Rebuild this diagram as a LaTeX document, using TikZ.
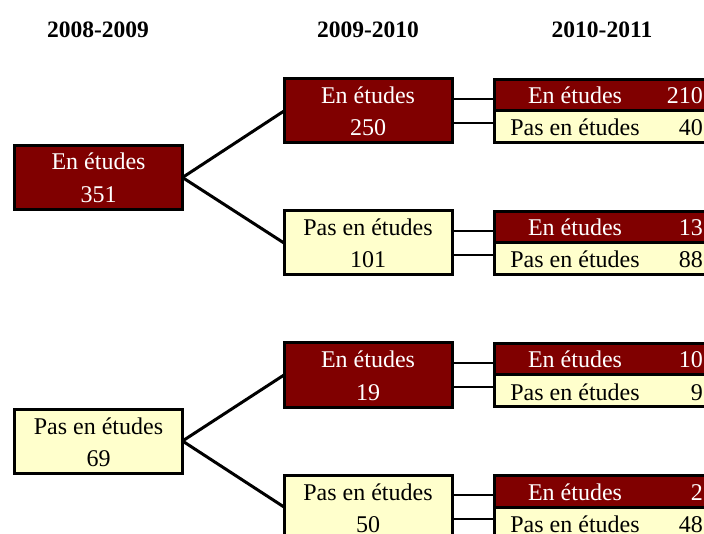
\documentclass[tikz,border=0pt]{standalone}
\usepackage{fontspec}
\setmainfont{Liberation Serif}
\usetikzlibrary{calc}
\definecolor{maroonbox}{HTML}{800000}
\definecolor{paleyellow}{HTML}{FFFFCC}
\begin{document}
\begin{tikzpicture}[x=1pt,y=-1pt,
  box/.style={draw=black, line width=3pt, minimum width=168pt, minimum height=64pt, inner sep=0pt, outer sep=0pt},
  inbox/.style={box, fill=maroonbox},
  outbox/.style={box, fill=paleyellow},
  row/.style={draw=black, line width=3pt, minimum width=221pt, minimum height=31.5pt, inner sep=0pt, outer sep=0pt},
  inrow/.style={row, fill=maroonbox},
  outrow/.style={row, fill=paleyellow},
  txt/.style={anchor=base, inner sep=0pt, font=\fontsize{24}{28}\selectfont},
  wtxt/.style={txt, text=white},
  numtxt/.style={txt, anchor=base east},
  wnumtxt/.style={numtxt, text=white},
  hdr/.style={anchor=base, inner sep=0pt, font=\fontsize{23.5}{28}\selectfont\bfseries},
  branch/.style={draw=black, line width=3pt},
  link/.style={draw=black, line width=1.8pt}
]
\useasboundingbox (0,0) rectangle (704,534);
\clip (0,0) rectangle (704,534);

% headers
\node[hdr] (h1) at (98,38) {2008-2009};
\node[hdr] (h2) at (368,38) {2009-2010};
\node[hdr] (h3) at (602,38) {2010-2011};

% column 1
\node[inbox] (a1) at (98.5,177.5) {};
\node[outbox] (a2) at (98.5,441) {};
% column 2
\node[inbox] (b1) at (368,111) {};
\node[outbox] (b2) at (368,243) {};
\node[inbox] (b3) at (368,375) {};
\node[outbox] (b4) at (368,507) {};
% column 3
\node[inrow] (c1a) at (605,95.25) {};
\node[outrow] (c1b) at (605,126.75) {};
\node[inrow] (c2a) at (605,227.25) {};
\node[outrow] (c2b) at (605,258.75) {};
\node[inrow] (c3a) at (605,359.25) {};
\node[outrow] (c3b) at (605,390.75) {};
\node[inrow] (c4a) at (605,491.25) {};
\node[outrow] (c4b) at (605,522.75) {};

% branches
\draw[branch] (a1.east) -- (b1.west);
\draw[branch] (a1.east) -- (b2.west);
\draw[branch] (a2.east) -- (b3.west);
\draw[branch] (a2.east) -- (b4.west);

% links
\foreach \b/\c in {b1/c1a, b2/c2a, b3/c3a, b4/c4a}{
  \draw[link] ([yshift=12pt]\b.east) -- ([yshift=12pt]\b.east -| \c.west);
  \draw[link] ([yshift=-12pt]\b.east) -- ([yshift=-12pt]\b.east -| \c.west);
}

% texts column 1
\node[wtxt] at (98.5,170) {En études};
\node[wtxt] at (98.5,203) {351};
\node[txt] at (98.5,434) {Pas en études};
\node[txt] at (98.5,466.5) {69};

% texts column 2
\node[wtxt] at (368,104) {En études};
\node[wtxt] at (368,136) {250};
\node[txt] at (368,236) {Pas en études};
\node[txt] at (368,268) {101};
\node[wtxt] at (368,368) {En études};
\node[wtxt] at (368,400) {19};
\node[txt] at (368,500) {Pas en études};
\node[txt] at (368,532) {50};

% texts column 3
\node[wtxt] at (575,104) {En études};
\node[wnumtxt] at (703,104) {210};
\node[txt] at (575,136) {Pas en études};
\node[numtxt] at (703,136) {40};
\node[wtxt] at (575,236) {En études};
\node[wnumtxt] at (703,236) {13};
\node[txt] at (575,268) {Pas en études};
\node[numtxt] at (703,268) {88};
\node[wtxt] at (575,368) {En études};
\node[wnumtxt] at (703,368) {10};
\node[txt] at (575,400) {Pas en études};
\node[numtxt] at (703,400) {9};
\node[wtxt] at (575,500) {En études};
\node[wnumtxt] at (703,500) {2};
\node[txt] at (575,532) {Pas en études};
\node[numtxt] at (703,532) {48};
\end{tikzpicture}
\end{document}
